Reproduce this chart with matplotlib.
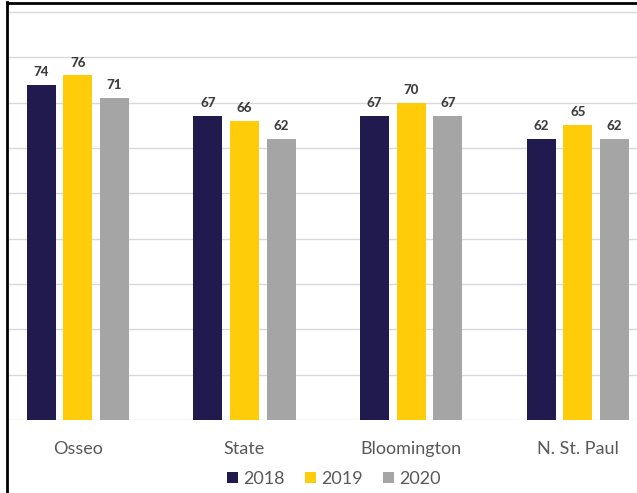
import matplotlib.pyplot as plt
from matplotlib.lines import Line2D
import numpy as np

places = ["Osseo", "State", "Bloomington", "N. St. Paul"]
years = ["2018", "2019", "2020"]
scores_2018 = [74, 67, 67, 62]
scores_2019 = [76, 66, 70, 65]
scores_2020 = [71, 62, 67, 62]

colors = ["#201a4f", "#ffcc0a", "#a5a5a5"]
text_grey = "#595959"
label_grey = "#404040"

plt.rcParams["font.family"] = ["Lato", "DejaVu Sans"]

fig = plt.figure(figsize=(6.37, 4.93), dpi=100)
W, H = 637, 493
# plot area in pixels: left 8, right 637, baseline at 420, ylim top of 91
px_per_unit = 45.33 / 10
y_top = 91
ax_top = 420 - y_top * px_per_unit
ax = fig.add_axes([8 / W, (H - 420) / H, (W - 8) / W, (420 - ax_top) / H])

group_px = 166.7
x = np.arange(len(places))
step = 36.7 / group_px
width = 29.0 / group_px

series = [scores_2018, scores_2019, scores_2020]
for i, (vals, year, col) in enumerate(zip(series, years, colors)):
    pos = x + (i - 1) * step
    bars = ax.bar(pos, vals, width, color=col, label=year, zorder=3)
    for b, v in zip(bars, vals):
        ax.annotate(str(v), (b.get_x() + b.get_width() / 2, v),
                    xytext=(0, 5), textcoords="offset points",
                    ha="center", va="bottom", fontsize=9.5,
                    fontweight="black", color=label_grey)

left = -(77.8 - 8) / group_px
ax.set_xlim(left, left + (W - 8) / group_px)
ax.set_ylim(0, y_top)
ax.set_yticks(range(0, 91, 10))
ax.set_yticklabels([])
ax.tick_params(axis="y", length=0)
ax.grid(axis="y", color="#d9d9d9", linewidth=1, zorder=0)
ax.set_xticks(x)
ax.set_xticklabels(places, fontsize=13, color=text_grey)
ax.tick_params(axis="x", length=0, pad=15)
for s in ax.spines.values():
    s.set_visible(False)

fig.legend(loc="center", bbox_to_anchor=(334 / W, (H - 479) / H), ncol=3,
           frameon=False, fontsize=13, labelcolor=text_grey,
           handlelength=0.6, handleheight=0.6, handletextpad=0.3,
           columnspacing=1.1, borderaxespad=0)

# black frame along the top and left edges
fig.add_artist(Line2D([7 / W, 7 / W], [0, (H - 2) / H], color="black",
                      linewidth=2, transform=fig.transFigure))
fig.add_artist(Line2D([7 / W, 1], [(H - 3) / H, (H - 3) / H], color="black",
                      linewidth=2, transform=fig.transFigure))

fig.savefig("out.png", dpi=100)
